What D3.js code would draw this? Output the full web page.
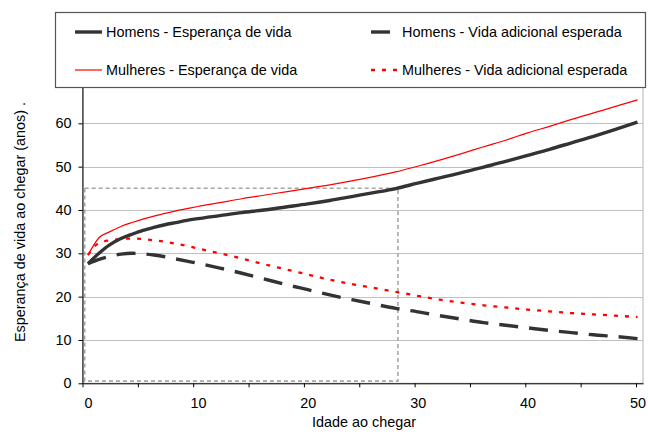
<!DOCTYPE html>
<html>
<head>
<meta charset="utf-8">
<script src="https://cdn.jsdelivr.net/npm/d3@7"></script>
<style>
  html, body { margin: 0; padding: 0; background: #fff; }
  svg text { font-family: "Liberation Sans", Arial, sans-serif; fill: #000; }
</style>
</head>
<body>
<svg id="chart" width="648" height="436"></svg>
<script>
// ---- data ----
const ages = [0,1,2,3,4,5,6,7,8,9,10,12,14,16,18,20,22,24,26,28,30,32,34,36,38,40,42,44,46,48,50];
const homensEsperanca = [27.6,30.0,32.0,33.4,34.4,35.3,36.0,36.6,37.1,37.6,38.0,38.7,39.4,40.0,40.7,41.4,42.2,43.1,44.0,44.95,46.2,47.4,48.6,49.9,51.2,52.6,54.0,55.5,57.0,58.6,60.3];
const homensAdicional = [27.6,28.6,29.3,29.8,30.0,29.9,29.6,29.2,28.7,28.2,27.7,26.6,25.4,24.1,22.8,21.6,20.4,19.3,18.3,17.3,16.5,15.6,14.8,14.0,13.4,12.8,12.2,11.7,11.2,10.8,10.3];
const mulheresEsperanca = [29.6,33.6,35.0,36.2,37.1,37.9,38.6,39.2,39.8,40.3,40.8,41.7,42.6,43.4,44.2,45.0,45.8,46.7,47.7,48.8,50.1,51.5,53.0,54.6,56.1,57.8,59.3,60.9,62.4,63.9,65.4];
const mulheresAdicional = [29.6,32.4,33.0,33.3,33.4,33.3,33.0,32.7,32.2,31.7,31.1,30.0,28.8,27.5,26.3,25.1,23.9,22.9,22.0,21.1,20.2,19.3,18.6,18.0,17.5,17.0,16.6,16.2,15.9,15.6,15.3];
const yTicks = [0,10,20,30,40,50,60];
const xLabelTicks = [0,10,20,30,40,50];
const xMarkTicks = [0,5,10,15,20,25,30,35,40,45,50];
const rectAges = [-0.3, 28.2];
const rectValues = [0.5, 45];

const seriesNames = [
  "Homens - Esperança de vida",
  "Homens - Vida adicional esperada",
  "Mulheres - Esperança de vida",
  "Mulheres - Vida adicional esperada"
];
const seriesValues = [homensEsperanca, homensAdicional, mulheresEsperanca, mulheresAdicional];
const seriesStyles = [
  {color: "#333333", width: 3.4, dash: null},
  {color: "#333333", width: 3.4, dash: "19,11"},
  {color: "#ff0000", width: 1.2, dash: null},
  {color: "#ff0000", width: 2.3, dash: "4,7"}
];

// ---- layout ----
const FS = "14.4px";
const svg = d3.select("#chart");
const plotLeft = 82.5, plotRight = 643, plotTop = 80, plotBottom = 383.3;

const x = d3.scaleLinear().domain([-0.5, 50.5]).range([plotLeft, plotRight]);
const xTickScale = d3.scaleLinear().domain([0, 50]).range([plotLeft, 636]);
const y = d3.scaleLinear().domain([0, 70]).range([plotBottom, plotTop]);

// plot area border (light)
svg.append("rect")
  .attr("x", plotLeft).attr("y", plotTop)
  .attr("width", plotRight - plotLeft).attr("height", plotBottom - plotTop)
  .attr("fill", "none").attr("stroke", "#b4b4b4").attr("stroke-width", 1);

// gridlines
svg.append("g").selectAll("line")
  .data(yTicks.filter(d => d > 0))
  .join("line")
  .attr("x1", plotLeft).attr("x2", plotRight)
  .attr("y1", d => Math.round(y(d)) + 0.5).attr("y2", d => Math.round(y(d)) + 0.5)
  .attr("stroke", "#c0c0c0").attr("stroke-width", 1);

// dashed rectangle
svg.append("rect")
  .attr("x", x(rectAges[0])).attr("y", y(rectValues[1]))
  .attr("width", x(rectAges[1]) - x(rectAges[0]))
  .attr("height", y(rectValues[0]) - y(rectValues[1]))
  .attr("fill", "none").attr("stroke", "#a6a6a6")
  .attr("stroke-width", 1.6).attr("stroke-dasharray", "4,3");

// series lines
const line = d3.line().x((d, i) => x(ages[i])).y(d => y(d)).curve(d3.curveMonotoneX);
const order = [2, 3, 1, 0];
order.forEach(k => {
  const st = seriesStyles[k];
  svg.append("path")
    .datum(seriesValues[k])
    .attr("d", line)
    .attr("fill", "none")
    .attr("stroke", st.color)
    .attr("stroke-width", st.width)
    .attr("stroke-dasharray", st.dash)
    .attr("stroke-linejoin", "round");
});

// y axis
const yAxis = svg.append("g")
  .attr("transform", `translate(${plotLeft},0)`)
  .call(d3.axisLeft(y).tickValues(yTicks).tickSize(4).tickPadding(7).tickSizeOuter(0));
yAxis.select(".domain").attr("stroke", "#000");
yAxis.selectAll("text").style("font-size", FS);

// x axis tick marks
const xMarks = svg.append("g")
  .attr("transform", `translate(0,${plotBottom})`)
  .call(d3.axisBottom(xTickScale).tickValues(xMarkTicks).tickSize(4).tickFormat("").tickSizeOuter(0));
xMarks.select(".domain").remove();

// x axis line + labels
const xAxis = svg.append("g")
  .attr("transform", `translate(0,${plotBottom})`)
  .call(d3.axisBottom(x).tickValues(xLabelTicks).tickSize(0).tickPadding(14.5).tickSizeOuter(0));
xAxis.select(".domain").attr("stroke", "#000");
xAxis.selectAll("text").style("font-size", FS);

// axis titles
svg.append("text")
  .attr("x", 364).attr("y", 427)
  .attr("text-anchor", "middle")
  .style("font-size", FS)
  .text("Idade ao chegar");

svg.append("text")
  .attr("transform", "translate(20,222) rotate(-90)")
  .attr("text-anchor", "middle")
  .attr("dy", "0.35em")
  .style("font-size", FS)
  .text("Esperança de vida ao chegar (anos) .");

// legend
const legend = svg.append("g");
legend.append("rect")
  .attr("x", 55.5).attr("y", 12.5).attr("width", 590).attr("height", 75)
  .attr("fill", "#fff").attr("stroke", "#555").attr("stroke-width", 1.2);

const legendPos = [
  {sx: 75, ex: 102, tx: 106, cy: 32},
  {sx: 371, ex: 397, tx: 402, cy: 32},
  {sx: 75, ex: 102, tx: 106, cy: 70},
  {sx: 371, ex: 397, tx: 402, cy: 70}
];
seriesNames.forEach((name, k) => {
  const p = legendPos[k], st = seriesStyles[k];
  legend.append("line")
    .attr("x1", p.sx).attr("x2", p.ex).attr("y1", p.cy).attr("y2", p.cy)
    .attr("stroke", st.color).attr("stroke-width", st.width)
    .attr("stroke-dasharray", st.dash);
  legend.append("text")
    .attr("x", p.tx).attr("y", p.cy).attr("dy", "0.35em")
    .style("font-size", FS)
    .text(name);
});
</script>
</body>
</html>
